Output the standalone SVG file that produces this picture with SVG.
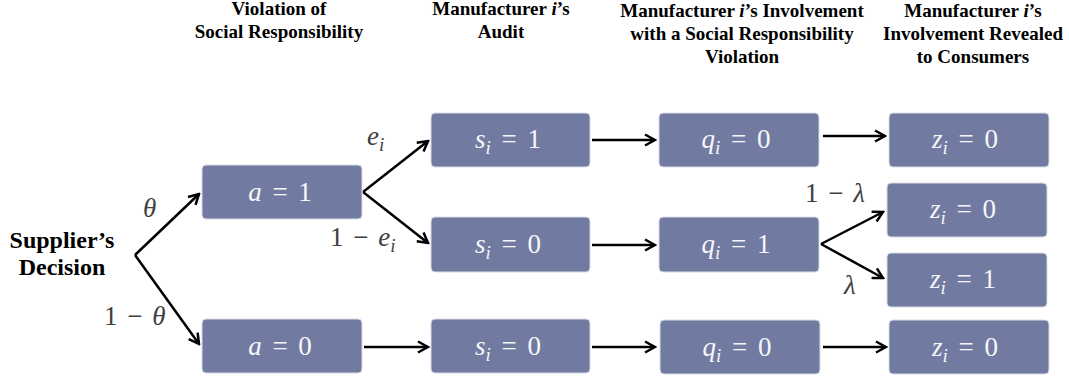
<svg xmlns="http://www.w3.org/2000/svg" width="1069" height="379" viewBox="0 0 1069 379">
<defs>
<style>
.hd{font-family:"Liberation Serif","DejaVu Serif",serif;font-weight:bold;font-size:19px;fill:#000;text-anchor:middle}
.sd{font-family:"Liberation Serif","DejaVu Serif",serif;font-weight:bold;font-size:24px;fill:#000;text-anchor:middle}
.box{fill:#717ba1;stroke:#d9dce8;stroke-width:1}
.bt{font-family:"Liberation Serif","DejaVu Serif",serif;font-size:27px;fill:#f6f6fa;text-anchor:middle;word-spacing:4px}
.ml{font-family:"Liberation Serif","DejaVu Serif",serif;font-size:27px;fill:#404040;word-spacing:3px}
.it{font-style:italic}
.con{fill:none;stroke:#000;stroke-width:2.5}
</style>
<marker id="ah" viewBox="0 0 14 14" refX="12" refY="7" markerWidth="14" markerHeight="14" orient="auto" markerUnits="userSpaceOnUse">
<path d="M2,1.5 L12,7 L2,12.5" fill="none" stroke="#000" stroke-width="2.5"/>
</marker>
</defs>
<rect width="1069" height="379" fill="#fff"/>

<g id="headers">
<text class="hd" x="279" y="15">Violation of</text>
<text class="hd" x="279" y="38">Social Responsibility</text>
<text class="hd" x="501" y="15">Manufacturer <tspan font-style="italic">i</tspan>’s</text>
<text class="hd" x="501" y="38">Audit</text>
<text class="hd" x="742" y="17">Manufacturer <tspan font-style="italic">i</tspan>’s Involvement</text>
<text class="hd" x="742" y="40">with a Social Responsibility</text>
<text class="hd" x="742" y="63">Violation</text>
<text class="hd" x="973" y="17">Manufacturer <tspan font-style="italic">i</tspan>’s</text>
<text class="hd" x="973" y="40">Involvement Revealed</text>
<text class="hd" x="973" y="63">to Consumers</text>
</g>

<g id="supplier">
<text class="sd" x="62" y="248">Supplier’s</text>
<text class="sd" x="62" y="275">Decision</text>
</g>

<g id="connectors">
<line class="con" x1="135" y1="255" x2="199" y2="194" marker-end="url(#ah)"/>
<line class="con" x1="135" y1="255" x2="199" y2="344" marker-end="url(#ah)"/>
<line class="con" x1="363" y1="192" x2="428" y2="141" marker-end="url(#ah)"/>
<line class="con" x1="363" y1="192" x2="428" y2="243" marker-end="url(#ah)"/>
<line class="con" x1="364" y1="347" x2="428" y2="347" marker-end="url(#ah)"/>
<line class="con" x1="592" y1="140" x2="655" y2="140" marker-end="url(#ah)"/>
<line class="con" x1="592" y1="245" x2="655" y2="245" marker-end="url(#ah)"/>
<line class="con" x1="592" y1="347" x2="655" y2="347" marker-end="url(#ah)"/>
<line class="con" x1="823" y1="136" x2="885" y2="136" marker-end="url(#ah)"/>
<line class="con" x1="821" y1="244" x2="883" y2="212" marker-end="url(#ah)"/>
<line class="con" x1="821" y1="244" x2="883" y2="278" marker-end="url(#ah)"/>
<line class="con" x1="823" y1="347" x2="886" y2="347" marker-end="url(#ah)"/>
</g>

<g id="labels">
<text class="ml it" x="143" y="217">θ</text>
<text class="ml" x="104" y="325">1 − <tspan class="it">θ</tspan></text>
<text class="ml it" x="367" y="145">e<tspan font-size="19" dy="6">i</tspan></text>
<text class="ml" x="330" y="246">1 − <tspan class="it">e</tspan><tspan class="it" font-size="19" dy="6">i</tspan></text>
<text class="ml" x="805" y="202">1 − <tspan class="it">λ</tspan></text>
<text class="ml it" x="844" y="294">λ</text>
</g>

<g id="n-a1"><rect class="box" x="202" y="165" width="160" height="54" rx="4"/><text class="bt" x="280" y="201"><tspan class="it">a</tspan> = 1</text></g>
<g id="n-a0"><rect class="box" x="202" y="319" width="160" height="54" rx="4"/><text class="bt" x="280" y="355"><tspan class="it">a</tspan> = 0</text></g>

<g id="n-s1"><rect class="box" x="431" y="113" width="159" height="54" rx="4"/><text class="bt" x="508" y="148"><tspan class="it">s</tspan><tspan class="it" font-size="19" dy="6">i</tspan><tspan dy="-6"> = 1</tspan></text></g>
<g id="n-s0a"><rect class="box" x="431" y="217" width="159" height="55" rx="4"/><text class="bt" x="508" y="253"><tspan class="it">s</tspan><tspan class="it" font-size="19" dy="6">i</tspan><tspan dy="-6"> = 0</tspan></text></g>
<g id="n-s0b"><rect class="box" x="431" y="319" width="159" height="54" rx="4"/><text class="bt" x="508" y="355"><tspan class="it">s</tspan><tspan class="it" font-size="19" dy="6">i</tspan><tspan dy="-6"> = 0</tspan></text></g>

<g id="n-q0a"><rect class="box" x="659" y="113" width="160" height="54" rx="4"/><text class="bt" x="736" y="148"><tspan class="it">q</tspan><tspan class="it" font-size="19" dy="6">i</tspan><tspan dy="-6"> = 0</tspan></text></g>
<g id="n-q1"><rect class="box" x="659" y="217" width="160" height="55" rx="4"/><text class="bt" x="736" y="253"><tspan class="it">q</tspan><tspan class="it" font-size="19" dy="6">i</tspan><tspan dy="-6"> = 1</tspan></text></g>
<g id="n-q0b"><rect class="box" x="660" y="320" width="160" height="54" rx="4"/><text class="bt" x="737" y="356"><tspan class="it">q</tspan><tspan class="it" font-size="19" dy="6">i</tspan><tspan dy="-6"> = 0</tspan></text></g>

<g id="n-z0a"><rect class="box" x="889" y="113" width="160" height="54" rx="4"/><text class="bt" x="965" y="148"><tspan class="it">z</tspan><tspan class="it" font-size="19" dy="6">i</tspan><tspan dy="-6"> = 0</tspan></text></g>
<g id="n-z0b"><rect class="box" x="887" y="183" width="160" height="54" rx="4"/><text class="bt" x="963" y="218"><tspan class="it">z</tspan><tspan class="it" font-size="19" dy="6">i</tspan><tspan dy="-6"> = 0</tspan></text></g>
<g id="n-z1"><rect class="box" x="887" y="253" width="160" height="54" rx="4"/><text class="bt" x="963" y="288"><tspan class="it">z</tspan><tspan class="it" font-size="19" dy="6">i</tspan><tspan dy="-6"> = 1</tspan></text></g>
<g id="n-z0c"><rect class="box" x="889" y="320" width="160" height="54" rx="4"/><text class="bt" x="965" y="356"><tspan class="it">z</tspan><tspan class="it" font-size="19" dy="6">i</tspan><tspan dy="-6"> = 0</tspan></text></g>
</svg>
